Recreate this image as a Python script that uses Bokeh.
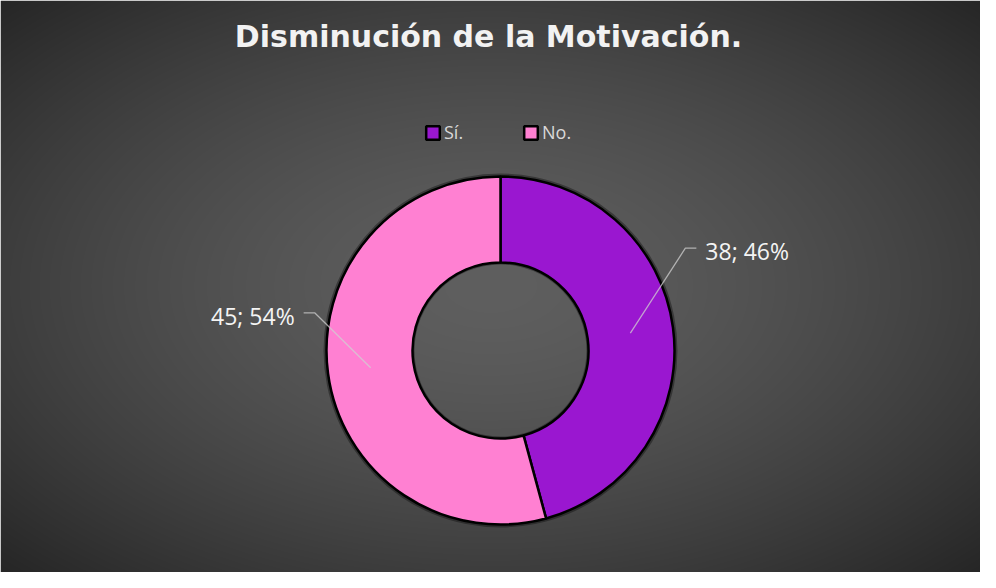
import math
import numpy as np
from bokeh.plotting import figure
from bokeh.models import Range1d, Legend, LegendItem, ColumnDataSource, Label
from bokeh.embed import file_html
from bokeh.resources import INLINE

# ---- data ----
categories = ["Sí.", "No."]
counts = [38, 45]
colors = ["#9A17D0", "#FF80D2"]
title_text = "Disminución de la Motivación."

# ---- layout styles ----
W, H = 980, 572
CX, CY = 500, 222          # donut centre (data px)
R_IN, R_OUT = 88, 174
LABEL_ELBOW = [(55, 85), (-56, 55)]   # leader elbow offsets (style)
LEADER_TAIL = 11
TEXT_GAP = 9

total = sum(counts)
fracs = [c / total for c in counts]
cum = np.concatenate([[0.0], np.cumsum(fracs)])
start = [math.pi / 2 - 2 * math.pi * cum[i] for i in range(len(counts))]
end = [math.pi / 2 - 2 * math.pi * cum[i + 1] for i in range(len(counts))]
labels = [f"{c}; {round(f * 100)}%" for c, f in zip(counts, fracs)]

p = figure(width=W, height=H, x_range=Range1d(0, W), y_range=Range1d(0, H),
           output_backend="svg", toolbar_location=None, min_border=0)
p.axis.visible = False
p.grid.visible = False
p.outline_line_color = None
p.background_fill_alpha = 0
p.border_fill_alpha = 0

# background radial gradient
yy, xx = np.mgrid[0:H, 0:W]
d = np.sqrt(((xx - W / 2) / (W / 2)) ** 2 + ((yy - H / 2) / (H / 2)) ** 2) / math.sqrt(2)
g = np.clip(95 - 57 * d ** 1.5, 0, 255).astype(np.uint32)
img = (255 << 24) | (g << 16) | (g << 8) | g
p.image_rgba(image=[img.astype(np.uint32)], x=0, y=0, dw=W, dh=H)

# subtle shadow ring
p.annulus(x=CX, y=CY, inner_radius=R_IN - 2, outer_radius=R_OUT + 3,
          fill_color="black", fill_alpha=0.35, line_color=None)

src = ColumnDataSource(dict(start=start, end=end, color=colors, cat=categories))
r = p.annular_wedge(x=CX, y=CY, inner_radius=R_IN, outer_radius=R_OUT,
                    start_angle="start", end_angle="end", direction="clock",
                    fill_color="color", line_color="black", line_width=2.5,
                    source=src)

# leader lines and labels
for i, lab in enumerate(labels):
    mid = (start[i] + end[i]) / 2
    rm = (R_IN + R_OUT) / 2
    x0 = CX + rm * math.cos(mid)
    y0 = CY + rm * math.sin(mid)
    ex, ey = LABEL_ELBOW[i]
    x1, y1 = x0 + ex, y0 + ey
    sgn = 1 if ex > 0 else -1
    x2 = x1 + sgn * LEADER_TAIL
    p.line([x0, x1, x2], [y0, y1, y1], line_color="#d0d0d0", line_alpha=0.75,
           line_width=1.3)
    p.add_layout(Label(x=x2 + sgn * TEXT_GAP, y=y1 - 3, text=lab,
                       text_align="left" if sgn > 0 else "right",
                       text_baseline="middle", text_color="#f4f4f4",
                       text_font="Open Sans", text_font_size="23px"))

# title
p.add_layout(Label(x=W / 2 - 2, y=H - 36, text=title_text, text_align="center",
                   text_baseline="alphabetic", text_color="#f2f2f2",
                   text_font="DejaVu Sans", text_font_style="bold",
                   text_font_size="30px"))

legend = Legend(items=[LegendItem(label=categories[i], renderers=[r], index=i)
                       for i in range(len(categories))],
                orientation="horizontal", location=(424, 428),
                background_fill_alpha=0, border_line_alpha=0,
                label_text_color="#d9d9d9", label_text_font="Open Sans",
                label_text_font_size="18px", glyph_width=17, glyph_height=17,
                label_standoff=3, spacing=58, padding=0, margin=0,
                label_height=14)
p.add_layout(legend, "center")

open("out.html", "w").write(file_html(p, INLINE))
